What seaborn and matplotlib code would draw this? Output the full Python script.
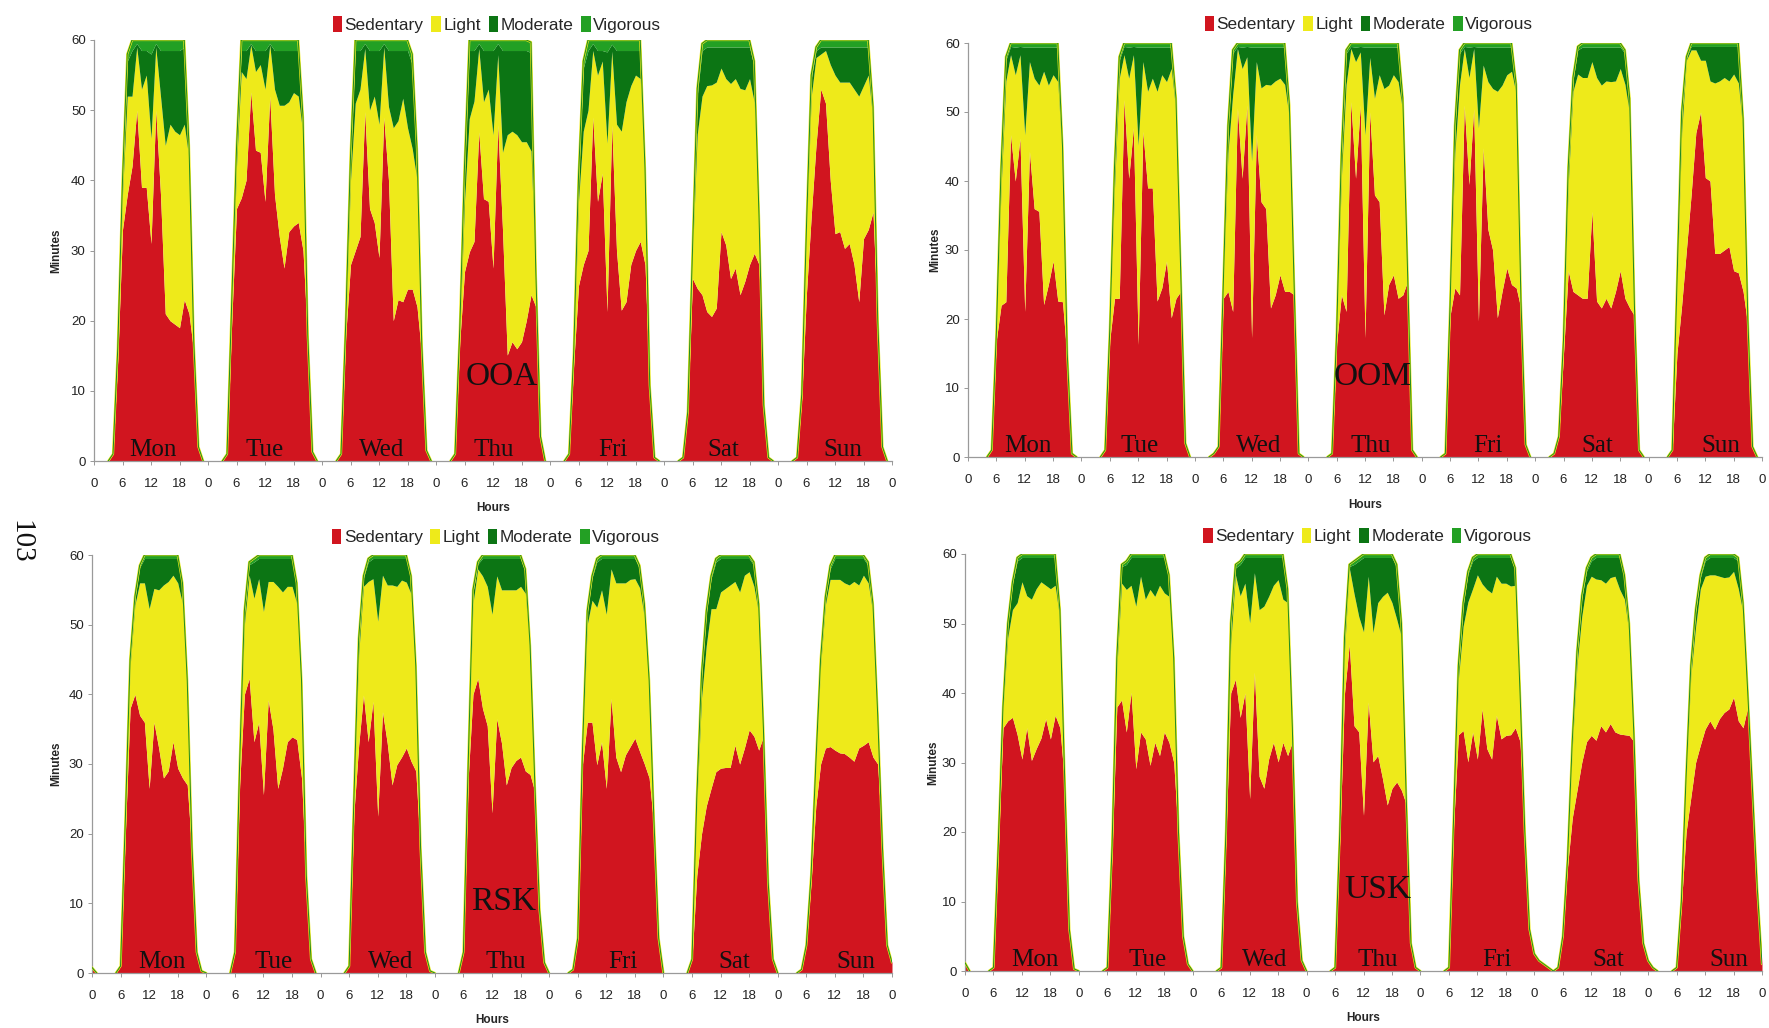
import numpy as np
import pandas as pd
import matplotlib
matplotlib.use("Agg")
import matplotlib.pyplot as plt
from matplotlib.patches import Patch
import seaborn as sns

# ---------------- data (minutes per hour, hours 0..23 of each day) ----------------
DAYS = ["Mon", "Tue", "Wed", "Thu", "Fri", "Sat", "Sun"]
CATEGORIES = ["Sedentary", "Light", "Moderate", "Vigorous"]

# ---- OOA ----
OOA_SED = [
    [0,0,0,0,1,14.5,33,38,42,50,39,39,31,50,38,21,20,19.5,19,23,21,15.5,2,0],
    [0,0,0,0,1,20,36,37.5,40,52.6,44.3,44,37,52,38,32,27.5,32.7,33.5,34,30,17,1.3,0],
    [0,0,0,0,1,18,28,30,32,49.8,36,34,29,49,40,20,23,22.7,24.5,24.5,22,15,1.5,0],
    [0,0,0,0,1,17,27,29.8,31.3,46.9,37.4,37,27.5,47.9,33,15.1,17,16,17,20,23.7,22,3.5,0],
    [0,0,0,0,1,14,25,28,30,49,37,41,21.3,47.9,30,21.5,22.7,28,30,31.3,28,10,0.5,0],
    [0,0,0,0,0.5,7,26,24.6,23.7,21.3,20.6,21.8,32.7,30.8,26,27.5,23.7,25.6,28,29.6,28,7.8,0.5,0],
    [0,0,0,0,0.5,9,24,35,45,53,51,40,32.4,32.7,30.3,31,28,22.7,31.7,33,35.5,19,2,0],
]
OOA_LIGHT = [
    [0,0,0,0,0,1,5,14,10,9,14,16,15,9,14,24,28,27.5,27.5,25,22,1,0,0],
    [0,0,0,0,0,1.5,6,18,14.5,6.7,11.2,12.5,16,7.3,15,18.7,23.2,18.5,19,18,16.5,0.7,0,0],
    [0,0,0,0,0,1,12,21,21,9,14,18,19,10,10.5,27.5,25.5,29,23,20,18,1,0,0],
    [0,0,0,0,0,1,10,19,20,11.9,13.8,16,19,10,11,31.4,30,30.5,28.5,25.5,20.5,4,0,0],
    [0,0,0,0,0,1,12,19,20,9.5,18,16,24,10.5,18,25.5,28.5,25.5,25,23.2,12.5,0.6,0,0],
    [0,0,0,0,0,0,3.5,22,28.3,32.2,33,32.2,23.3,23.7,27.8,27,29.4,27.3,26.5,21.5,5.5,0.2,0,0],
    [0,0,0,0,0,0.5,9,17,12.5,5,7.5,16.5,22.6,21.3,23.7,23,25,29.3,21.8,22,13,0.8,0,0],
]
OOA_MOD = [
    [0,0,0,0,0,0.5,1.5,5,6.5,0.5,5.5,3.5,12,0.5,6.5,13.5,10.5,11.5,12,11,1.5,0.5,0,0],
    [0,0,0,0,0,0.7,2,3,4,0.2,3,2,5.5,0.2,5.5,7.8,7.8,7.3,6,6.5,2,0.2,0,0],
    [0,0,0,0,0,0.5,3,7.5,5.5,0.7,8.5,6.5,10.5,0.5,8,11,10,6.8,11,12,4,0.5,0,0],
    [0,0,0,0,0,0.5,4,9.7,7.2,0.7,7.3,5.5,12,1.6,14.5,12,11.5,12,13,13,14,1,0,0],
    [0,0,0,0,0,0.5,3,9,8.5,1,3.5,1.5,13,1,10.5,11.5,7.3,5,3.5,4,1,0.2,0,0],
    [0,0,0,0,0,0,0.5,5.5,6.5,5.5,5.4,5,3,4.5,5.2,4.5,5.9,6.1,4.5,5,1.2,0,0,0],
    [0,0,0,0,0,0,0.5,2.5,1,1,0.5,2.5,4,5,5,5,6,7,5.5,4,1.5,0.2,0,0],
]
OOA_VIG = [
    [0,0,0,0,0,0,0.5,1,1.5,0.5,1.5,1.5,2,0.5,1.5,1.5,1.5,1.5,1.5,1,0.5,0,0,0],
    [0,0,0,0,0,0.3,0.5,1.5,1.5,0.5,1.5,1.5,1.5,0.5,1.5,1.5,1.5,1.5,1.5,1.5,0.5,0.1,0,0],
    [0,0,0,0,0,0.2,0.5,1.5,1.5,0.5,1.5,1.5,1.5,0.5,1.5,1.5,1.5,1.5,1.5,1.5,0.5,0.2,0,0],
    [0,0,0,0,0,0.2,1,1.5,1.5,0.5,1.5,1.5,1.5,0.5,1.5,1.5,1.5,1.5,1.5,1.5,1.5,0.3,0,0],
    [0,0,0,0,0,0,0.5,1,1.5,0.5,1.5,1.5,1.7,0.6,1.5,1.5,1.5,1.5,1.5,1.5,0.2,0,0,0],
    [0,0,0,0,0,0,0,1,1,1,1,1,1,1,1,1,1,1,1,0.9,0.3,0,0,0],
    [0,0,0,0,0,0,0,0.5,0.5,1,1,1,1,1,1,1,1,1,1,1,0.5,0,0,0],
]
OOA_END = [0, 0, 0, 0]

# ---- OOM ----
OOM_SED = [
    [0,0,0,0,0,1,17,22,22.5,46.7,40,46.2,21.1,44.3,36,35.6,22.1,25,28.4,22.6,22.5,14,0.5,0],
    [0,0,0,0,0,1,17,23,23,51.8,40.4,47.7,16.3,47.2,39,39,22.6,24.5,28.4,20.2,23,24,2,0],
    [0,0,0,0,0.5,1.5,23,24,21.1,50.6,40.4,51,17.3,46.7,37,36,21.6,23.5,26.4,24,24,23.5,0.5,0],
    [0,0,0,0,0,0.5,16.5,23.5,21.1,51.5,40.4,51,17.3,50,38,37,20.6,25,26.4,23,23.5,25.5,1,0],
    [0,0,0,0,0,0.5,20.5,24.5,23.5,51,39.5,50.5,19.7,44.8,33,30,20.2,24,27.4,25,24.5,21.5,1.8,0],
    [0,0,0,0,0.5,3,15,27,24,23.5,23,23,35.6,22.6,21.6,23,21.6,24,27,23,21.6,20.5,1,0],
    [0,0,0,0,0,1,15,22,30,38,47,50,40.5,40,29.5,29.5,30,30.5,27,26.7,24,19,1.5,0],
]
OOM_LIGHT = [
    [0,0,0,0,0,0,1,17,32,11.6,15.4,12.1,25.6,13,18.9,18.3,33.8,28.9,27,31.8,20,0.8,0,0],
    [0,0,0,0,0,0,1.5,16,31.9,6.5,14.5,10.6,28.9,10.1,14,15.9,30.4,30.9,26,36.1,27,2.5,0,0],
    [0,0,0,0,0,0,1.5,20,31.4,8.6,15.9,7,25.6,10.6,16.5,18,32.3,31,28.5,30,25,1.2,0,0],
    [0,0,0,0,0,0,1.2,17,32.9,7.7,16.9,7.7,29.4,7.9,14,18.4,32.8,28.9,29,31.4,26.5,1.2,0,0],
    [0,0,0,0,0,0,1.2,19.5,30.5,8.2,15.5,8.7,28,12,21.4,23.4,32.8,29.9,28,30.9,28,0.9,0,0],
    [0,0,0,0,0,0,1.7,12.5,29,32,32,32,21.7,32.4,32.3,31.5,32.8,30.5,29.3,31,28,1.2,0,0],
    [0,0,0,0,0,0,9,25,27.5,21,12,7.5,17,14.5,24.7,25,25,24,28.5,27.5,23,0.8,0,0],
]
OOM_MOD = [
    [0,0,0,0,0,0,0,2.5,3,1.2,4,1.2,12.7,2.1,4.5,5.5,3.5,5.5,4,5,2,0.2,0,0],
    [0,0,0,0,0,0,0,2.5,2.6,1.2,4.5,1.2,14.2,2.1,6.4,4.5,6.4,4,5,3.1,1.6,0.4,0,0],
    [0,0,0,0,0,0,0.3,3.5,6,0.3,3.1,1.5,16.5,2.1,5.9,5.4,5.5,4.9,4.5,5.4,1.6,0.3,0,0],
    [0,0,0,0,0,0,0.3,3,4.5,0.3,2.1,0.8,12.7,1.5,7.4,4,6,5.5,4,5,1.5,0.3,0,0],
    [0,0,0,0,0,0,0.3,3.5,4.5,0.3,4.4,0.3,11.7,2.6,5,6,6.4,5.5,4,3.5,1.2,0.2,0,0],
    [0,0,0,0,0,0,0.3,2,1.5,3.5,4.4,4.4,2.1,4.4,5.5,4.9,5,4.9,3.1,4.5,2,0.3,0,0],
    [0,0,0,0,0,0,0.8,2.5,0.3,0.5,0.5,2,2,5,5.3,5,4.5,5,4,5.3,1.6,0.2,0,0],
]
OOM_VIG = [
    [0,0,0,0,0,0,0,0.5,0.5,0.5,0.6,0.5,0.6,0.6,0.6,0.6,0.6,0.6,0.6,0.6,0.5,0,0,0],
    [0,0,0,0,0,0,0,0.5,0.5,0.5,0.6,0.5,0.6,0.6,0.6,0.6,0.6,0.6,0.6,0.6,0.4,0.1,0,0],
    [0,0,0,0,0,0,0,0.5,0.5,0.5,0.6,0.5,0.6,0.6,0.6,0.6,0.6,0.6,0.6,0.6,0.4,0,0,0],
    [0,0,0,0,0,0,0,0.5,0.5,0.5,0.6,0.5,0.6,0.6,0.6,0.6,0.6,0.6,0.6,0.6,0.5,0,0,0],
    [0,0,0,0,0,0,0,0.5,0.5,0.5,0.6,0.5,0.6,0.6,0.6,0.6,0.6,0.6,0.6,0.6,0.3,0,0,0],
    [0,0,0,0,0,0,0,0.5,0.5,0.5,0.6,0.6,0.6,0.6,0.6,0.6,0.6,0.6,0.6,0.5,0.4,0,0,0],
    [0,0,0,0,0,0,0.2,0.5,0.2,0.5,0.5,0.5,0.5,0.5,0.5,0.5,0.5,0.5,0.5,0.5,0.4,0,0,0],
]
OOM_END = [0, 0, 0, 0]

# ---- RSK ----
RSK_SED = [
    [0.8,0,0,0,0,0,1,20,38,40,37,36,26.5,36,32.3,28,29,33.2,29.4,28,27,17,3,0.3],
    [0,0,0,0,0,0,3,27,40,42.3,33.2,36,25.6,39.2,35,26.5,29.4,33.2,33.9,33.5,28,13.3,2,0],
    [0,0,0,0,0,0,1,23,32.7,39.9,33.2,39,22.5,37.5,33,27,29.9,31,32.3,30.4,29,17,3,0.3],
    [0,0,0,0,0,0,3,28,40,42.3,38,35.5,23,36.5,33,27,29.5,30.5,31,29,28.5,26,9,1.5],
    [0,0,0,0,0,0.5,5,30,36,36,29.9,33.2,26.5,39.4,31,28.9,31.3,32.5,33.7,31.8,30,28,21,5],
    [0,0,0,0,0,0,2,14,20,24,26.5,28.9,29.4,29.5,29.5,32.7,30,32.3,34.9,34,32,34,13,2],
    [0,0,0,0,0,0.5,4,13,24,30,32.3,32.5,32,31.6,31.5,31,30.4,32.3,32.7,33.2,31,30,18,4],
]
RSK_LIGHT = [
    [0,0,0,0,0,0,0,1.5,6,12.8,19,20,25.8,19.2,22.7,27.7,27.2,23.9,26.6,25,14,0.8,0,0],
    [0,0,0,0,0,0,0,2.5,10,14.8,20.6,20.6,26.3,17,21.2,29,25.3,22.3,21.6,19.5,13.2,0.6,0,0],
    [0,0,0,0,0,0,0,1.5,13,15.6,23,17.6,28,19.6,22.7,28.7,25.6,25.4,23.8,24,14,0.8,0,0],
    [0,0,0,0,0,0,0,1.6,13,15.7,19,20,28.5,20.5,22,28,25.5,24.5,24.5,25.5,17,0.8,0,0],
    [0,0,0,0,0,0,0,1.6,14,17.5,22.6,21.8,25,18.6,25,27.1,24.7,24,22.9,23.5,21,13,0.8,0],
    [0,0,0,0,0,0,0,10,19.5,23,25.8,23.4,25.3,25.7,26.2,23.5,24.7,24.8,22.7,21.5,19.5,0.8,0,0],
    [0,0,0,0,0,0,0,0.8,5.5,14,20.5,24,24.5,24.9,24.5,24.7,25.8,23.4,24.4,22.8,20.5,6.2,0,0],
]
RSK_MOD = [
    [0,0,0,0,0,0,0,0.3,0.8,0.9,2.2,3.5,7.2,4.3,4.5,3.8,3.3,2.4,3.5,2.6,0.8,0.2,0,0],
    [0,0,0,0,0,0,0,0.4,1.7,1.5,5.2,2.9,7.6,3.3,3.3,4,4.8,4,4,2.6,0.6,0.1,0,0],
    [0,0,0,0,0,0,0,0.4,2,1.2,2.8,2.9,9,2.4,3.8,3.8,4,3.1,3.4,2.2,0.8,0.2,0,0],
    [0,0,0,0,0,0,0,0.3,1.6,0.7,2.5,4,8,2.5,4.5,4.5,4.5,4.5,4,3,1.2,0.2,0,0],
    [0,0,0,0,0,0,0,0.3,1.6,3.2,6.5,4.5,8,1.5,3.5,3.5,3.5,3,2.9,2.7,1.6,0.8,0.2,0],
    [0,0,0,0,0,0,0,0.8,3,4.6,4.3,6.7,4.8,4.3,3.8,3.3,4.8,2.4,1.9,3,1.2,0.2,0,0],
    [0,0,0,0,0,0,0,0.2,0.4,0.8,1,1.5,3,3,3.5,3.8,3.3,3.8,2.4,2.5,1.2,0.6,0,0],
]
RSK_VIG = [
    [0,0,0,0,0,0,0,0.2,0.2,0.3,0.3,0.5,0.5,0.5,0.5,0.5,0.5,0.5,0.5,0.4,0.2,0,0,0],
    [0,0,0,0,0,0,0,0.1,0.3,0.4,0.5,0.5,0.5,0.5,0.5,0.5,0.5,0.5,0.5,0.4,0.2,0,0,0],
    [0,0,0,0,0,0,0,0.1,0.3,0.3,0.5,0.5,0.5,0.5,0.5,0.5,0.5,0.5,0.5,0.4,0.2,0,0,0],
    [0,0,0,0,0,0,0,0.1,0.4,0.3,0.5,0.5,0.5,0.5,0.5,0.5,0.5,0.5,0.5,0.5,0.3,0,0,0],
    [0,0,0,0,0,0,0,0.1,0.4,0.3,0.5,0.5,0.5,0.5,0.5,0.5,0.5,0.5,0.5,0.5,0.4,0.2,0,0],
    [0,0,0,0,0,0,0,0.2,0.5,0.4,0.4,0.5,0.5,0.5,0.5,0.5,0.5,0.5,0.5,0.5,0.3,0,0,0],
    [0,0,0,0,0,0,0,0,0.1,0.2,0.2,0.5,0.5,0.5,0.5,0.5,0.5,0.5,0.5,0.5,0.3,0.2,0,0],
]
RSK_END = [1.5, 0, 0, 0]

# ---- USK ----
USK_SED = [
    [1.2,0,0,0,0,0,0.5,17,35,36,36.5,34,30.5,35,30.3,32,33.5,36.3,33.4,36.8,35,27,6,0.3],
    [0,0,0,0,0,0,0.5,17,38,39,34.4,40.1,29.1,34.4,33.4,29.6,32.9,31,34.4,32.9,30,19,5,1],
    [0,0,0,0,0,0,0.5,19,40,42,36.5,40,24.8,43,28,26.3,30.5,32.9,30.1,32.9,31,33,10,1.5],
    [0,0,0,0,0,0,0.5,19,40,47,35.3,34.4,22.4,38.7,30.1,31,27.7,23.9,26.3,27.2,26,24,4,0.5],
    [0,0,0,0,0,0,0.5,21,34,34.6,30.1,34.4,30.5,37.7,32,30.5,36.8,33.4,33.9,34,35,33,19.5,6],
    [2.5,1.5,1,0.5,0,0.5,5,15,22,26,30,33,33.9,33.2,35.3,34.4,35.6,34.4,34.1,34,33.9,33,13,4],
    [1.5,0.5,0,0,0,0,0.5,9.5,20,25,30,32.5,34.8,36,34.8,36.3,37.2,37.7,39.4,36,35,38,26,12],
]
USK_LIGHT = [
    [0,0,0,0,0,0,0,0.8,2.5,12,15.5,19,25.5,19,23.2,23,22.5,19.2,21.6,18.7,15.5,0.8,0,0],
    [0,0,0,0,0,0,0,0.8,5.5,16.8,20.5,15.4,23.4,22.4,20.1,25.3,21,24.5,20,21,14,0.8,0,0],
    [0,0,0,0,0,0,0,0.8,7,15,17.5,15.8,25.3,14.3,24,26.2,23.4,22.6,26.2,20.6,22,1.6,0,0],
    [0,0,0,0,0,0,0,0.8,6,11,19,16.6,26.4,18.1,18.6,22,26.2,30.6,26.7,23.4,22,0.8,0,0],
    [0,0,0,0,0,0,0,0.8,8,15,23,20.6,26.5,18,22.9,23.9,20,22.4,21.9,21.4,20.5,6,0.4,0],
    [0,0,0,0,0,0,0,0.8,10,18,21,22.5,22.9,23.2,21,21.4,21,22.4,20.8,19.5,14.5,0.8,0,0],
    [0,0,0,0,0,0,0,0.5,7.5,17.5,19.5,22.5,22,21,22.2,20.5,19.4,19,18.1,19,16.5,1.6,0,0],
]
USK_MOD = [
    [0,0,0,0,0,0,0,0.2,0.4,1.8,3.7,6,3.5,5.5,6,4.5,3.5,4,4.5,4,1.2,0.2,0,0],
    [0,0,0,0,0,0,0,0.2,1.2,2.4,3.6,4,7,2.7,6,4.6,5.6,4,5.1,2.7,0.8,0.2,0,0],
    [0,0,0,0,0,0,0,0.2,2.6,1,4.5,3.7,9.4,2.2,7.5,7,5.6,4,3.2,6,1.6,0.3,0,0],
    [0,0,0,0,0,0,0,0.2,1.6,0.2,4.2,8,10.7,2.7,10.8,6.5,5.6,5,6.5,7.4,1.6,0.2,0,0],
    [0,0,0,0,0,0,0,0.2,1.6,3,4,4,2.5,3.8,4.6,5.1,2.7,3.7,3.7,4.1,2.1,0.8,0.1,0],
    [0,0,0,0,0,0,0,0.2,0.8,1.6,2.6,2,2.2,3.1,3.2,3.7,2.9,2.7,4.6,3.1,1.3,0.2,0,0],
    [0,0,0,0,0,0,0,0,0.4,1.2,2.2,1.6,2.2,2.5,2.5,2.7,2.9,2.8,2,4,1.2,0.3,0,0],
]
USK_VIG = [
    [0,0,0,0,0,0,0,0,0.1,0.2,0.3,0.5,0.5,0.5,0.5,0.5,0.5,0.5,0.5,0.5,0.3,0,0,0],
    [0,0,0,0,0,0,0,0,0.3,0.3,0.5,0.5,0.5,0.5,0.5,0.5,0.5,0.5,0.5,0.4,0.2,0,0,0],
    [0,0,0,0,0,0,0,0,0.4,0.5,0.5,0.5,0.5,0.5,0.5,0.5,0.5,0.5,0.5,0.5,0.4,0.1,0,0],
    [0,0,0,0,0,0,0,0,0.4,0.3,0.5,0.5,0.5,0.5,0.5,0.5,0.5,0.5,0.5,0.5,0.4,0,0,0],
    [0,0,0,0,0,0,0,0,0.4,0.4,0.4,0.5,0.5,0.5,0.5,0.5,0.5,0.5,0.5,0.5,0.4,0.2,0,0],
    [0,0,0,0,0,0,0,0,0.2,0.4,0.4,0.5,0.5,0.5,0.5,0.5,0.5,0.5,0.5,0.4,0.3,0,0,0],
    [0,0,0,0,0,0,0,0,0.1,0.3,0.3,0.4,0.5,0.5,0.5,0.5,0.5,0.5,0.5,0.5,0.3,0.1,0,0],
]
USK_END = [1, 0, 0, 0]

GROUPS = ["OOA", "OOM", "RSK", "USK"]

# ---------------- style / layout ----------------
sns.set_theme(style="white")
plt.rcParams['font.family'] = ['Liberation Sans Narrow', 'Liberation Sans', 'DejaVu Sans']
COLORS = ["#D1151F", "#EEEA1A", "#0C7514", "#23A024"]
SERIF = ['Liberation Serif', 'DejaVu Serif']

W, H = 1769, 1028
fig = plt.figure(figsize=(W / 100, H / 100), dpi=100)
fig.patch.set_facecolor("white")

# axes rectangles in pixels: left, top, right, bottom
rects = {
    "OOA": (94, 40, 892, 461),
    "OOM": (968, 43, 1762, 457),
    "RSK": (92, 555, 892, 973),
    "USK": (965, 554, 1762, 971),
}
panel_data = {
    "OOA": (OOA_SED, OOA_LIGHT, OOA_MOD, OOA_VIG, OOA_END),
    "OOM": (OOM_SED, OOM_LIGHT, OOM_MOD, OOM_VIG, OOM_END),
    "RSK": (RSK_SED, RSK_LIGHT, RSK_MOD, RSK_VIG, RSK_END),
    "USK": (USK_SED, USK_LIGHT, USK_MOD, USK_VIG, USK_END),
}
# text placement (axis hours / minutes)
day_label_x = {
    "OOA": [12.3, 36.0, 60.5, 84.2, 109.2, 132.5, 157.6],
    "OOM": [12.7, 36.3, 61.4, 85.3, 110.1, 133.2, 159.3],
    "RSK": [14.6, 38.1, 62.8, 86.8, 111.5, 134.8, 160.4],
    "USK": [14.8, 38.4, 63.2, 87.1, 112.2, 135.6, 161.1],
}
group_pos = {"OOA": (85.9, 12.0), "OOM": (85.7, 11.6), "RSK": (86.5, 10.2), "USK": (87.0, 11.7)}
ylab_off = {"OOA": 32, "OOM": 27, "RSK": 30, "USK": 26}
xlab_off = {"OOA": 41, "OOM": 42, "RSK": 41, "USK": 41}
legend_off = {"OOA": 15.6, "OOM": 19, "RSK": 18, "USK": 18}

for g in GROUPS:
    l, t, r, b = rects[g]
    ax = fig.add_axes([l / W, 1 - b / H, (r - l) / W, (b - t) / H])
    sed, lig, mod, vig, end = panel_data[g]
    hours = np.arange(24 * 7 + 1)
    df = pd.DataFrame({"hour": hours})
    for name, series, e in zip(CATEGORIES, (sed, lig, mod, vig), end):
        df[name] = np.concatenate([np.ravel(series), [e]])
    ax.stackplot(df["hour"], *[df[c] for c in CATEGORIES], colors=COLORS,
                 labels=CATEGORIES, linewidth=0, antialiased=True)
    total = df[CATEGORIES].sum(axis=1).to_numpy()
    active = (total > 0) | (np.r_[total[1:], 0] > 0) | (np.r_[0, total[:-1]] > 0)
    tline = np.where(active, total, np.nan)
    ax.plot(df["hour"], tline, color="#EEEA1A", lw=1.6, zorder=3)
    ax.plot(df["hour"], tline, color="#1E8A22", lw=0.7, zorder=4)

    ax.set_xlim(0, 168)
    ax.set_ylim(0, 60)
    ax.set_xticks(np.arange(0, 169, 6))
    ax.set_xticklabels([str(h % 24) for h in range(0, 169, 6)])
    ax.set_yticks(np.arange(0, 61, 10))
    ax.tick_params(axis="both", which="both", direction="out", length=3, width=0.6,
                   color="#888888", labelsize=9.5, labelcolor="#222222", pad=3,
                   bottom=True, left=True)
    ax.tick_params(axis="x", pad=9.5)
    sns.despine(ax=ax)
    for s in ("left", "bottom"):
        ax.spines[s].set_color("#9A9A9A")
        ax.spines[s].set_linewidth(0.9)
    ax.set_facecolor("white")
    ax.grid(False)

    ax.set_ylabel("Minutes", fontsize=8.5, fontweight="bold", family=['Liberation Sans', 'DejaVu Sans'])
    ax.yaxis.set_label_coords(-ylab_off[g] / (r - l), 0.5)
    ax.set_xlabel("Hours", fontsize=8.5, fontweight="bold", family=['Liberation Sans', 'DejaVu Sans'])
    ax.xaxis.set_label_coords(0.5, -xlab_off[g] / (b - t))

    for xpos, name in zip(day_label_x[g], DAYS):
        ax.text(xpos, 1.6, name, ha="center", va="center", fontsize=18,
                family=SERIF, color="#111111", zorder=5)
    gx, gy = group_pos[g]
    ax.text(gx, gy, g, ha="center", va="center", fontsize=24, family=SERIF,
            color="#111111", zorder=5)

    handles = [Patch(facecolor=c, edgecolor="none") for c in COLORS]
    ax.legend(handles, CATEGORIES, ncol=4, loc="center",
              bbox_to_anchor=(0.505, 1 + legend_off[g] / (b - t)), frameon=False,
              handlelength=0.55, handleheight=1.0, handletextpad=0.15,
              columnspacing=0.45, fontsize=12.4, borderaxespad=0, borderpad=0)

fig.text(20 / W, 1 - 542 / H, "103", rotation=-90, fontsize=21, family=SERIF,
         ha="center", va="center", color="#111111")

fig.savefig("out.png", dpi=100, facecolor="white")
